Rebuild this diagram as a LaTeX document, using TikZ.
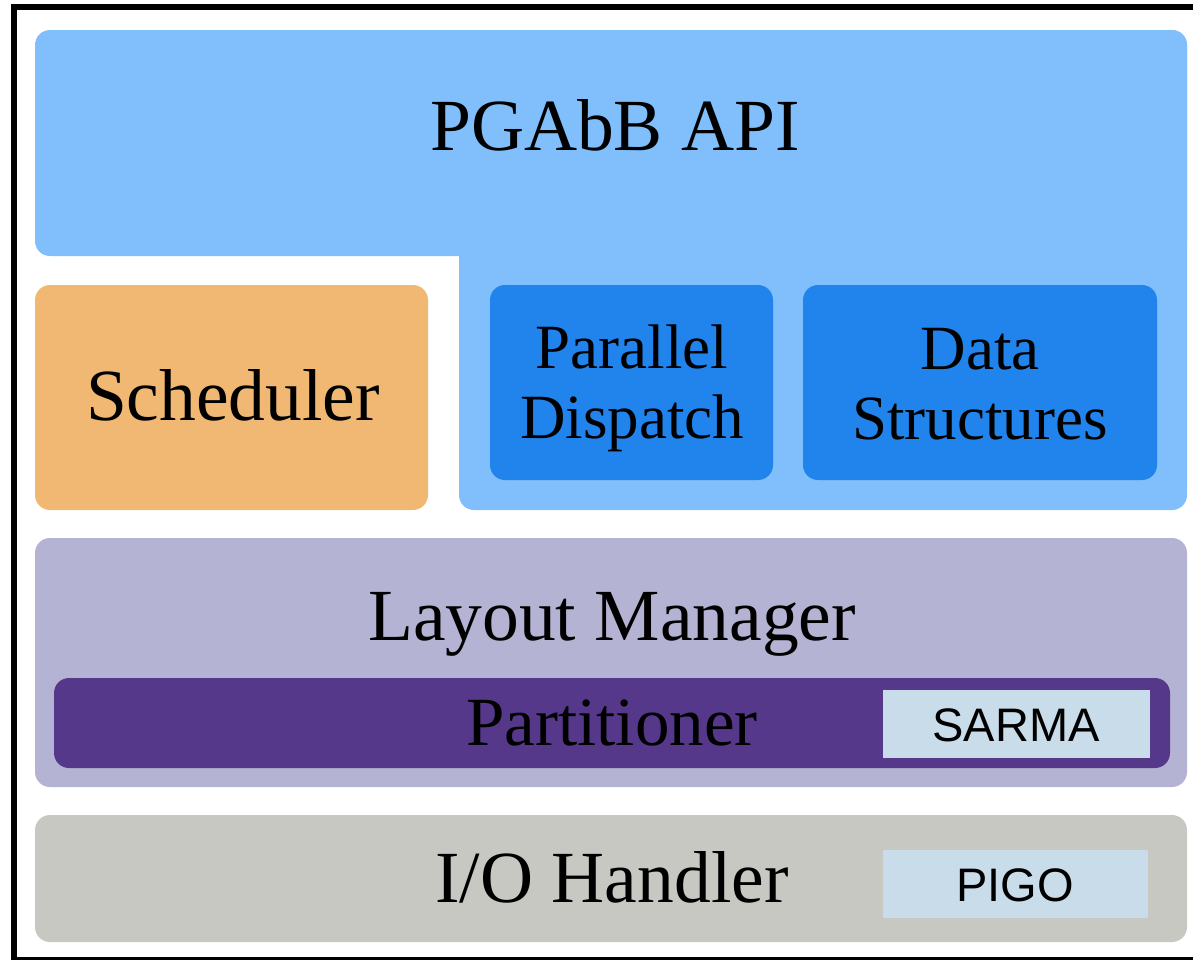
\documentclass[tikz,border=0pt]{standalone}
\usepackage{fontspec}
\setmainfont{Liberation Serif}
\newfontfamily\arialfont{Liberation Sans}
\definecolor{apiblue}{HTML}{80BFFC}
\definecolor{dispblue}{HTML}{2183EC}
\definecolor{schedorange}{HTML}{F0B872}
\definecolor{layoutlilac}{HTML}{B5B3D3}
\definecolor{partpurple}{HTML}{56388A}
\definecolor{iogray}{HTML}{C8C8C2}
\definecolor{libblue}{HTML}{C8DCEA}

\begin{document}
\begin{tikzpicture}[x=1pt, y=-1pt,
  big/.style={font=\fontsize{73.5}{78}\selectfont, inner sep=0pt},
  small/.style={font=\fontsize{63}{70}\selectfont, inner sep=0pt, align=center},
  lib/.style={font=\arialfont\fontsize{47}{50}\selectfont, inner sep=0pt}]
  \useasboundingbox (0,0) rectangle (1193,959);

  % --- outer frame (cut on the right) ---
  \draw[line width=6pt] (1210,6.5) -- (14,6.5) -- (14,960) -- (1210,960);

  % --- API layer: two rounded boxes merged into an L ---
  \fill[apiblue, rounded corners=15pt] (35,30) rectangle (1187,256);
  \fill[apiblue, rounded corners=15pt] (459,30) rectangle (1187,510);
  \node[big, anchor=base] (api) at (615,150) {PGAbB API};

  % --- scheduler and the two inner blocks ---
  \fill[schedorange, rounded corners=15pt] (35,285) rectangle (428,510);
  \node[big, anchor=base] (sched) at (233,420) {Scheduler};

  \fill[dispblue, rounded corners=15pt] (490,285) rectangle (773,480);
  \node[small] (disp) at (632,388) {Parallel\\Dispatch};

  \fill[dispblue, rounded corners=15pt] (803,285) rectangle (1157,480);
  \node[small] (data) at (980,384) {Data\\Structures};

  % --- layout manager with partitioner ---
  \fill[layoutlilac, rounded corners=15pt] (35,538) rectangle (1187,787);
  \node[big, anchor=base] (layout) at (612,640) {Layout Manager};

  \fill[partpurple, rounded corners=15pt] (54,678) rectangle (1170,768);
  \node[font=\fontsize{69}{72}\selectfont, inner sep=0pt, anchor=base] (part) at (612,745) {Partitioner};

  \fill[libblue] (883,690) rectangle (1150,758);
  \node[lib, anchor=base] (sarma) at (1016,741) {SARMA};

  % --- I/O handler ---
  \fill[iogray, rounded corners=15pt] (35,815) rectangle (1187,942);
  \node[big, anchor=base] (io) at (612,902) {I/O Handler};

  \fill[libblue] (883,850) rectangle (1148,918);
  \node[lib, anchor=base] (pigo) at (1015,901) {PIGO};
\end{tikzpicture}
\end{document}
